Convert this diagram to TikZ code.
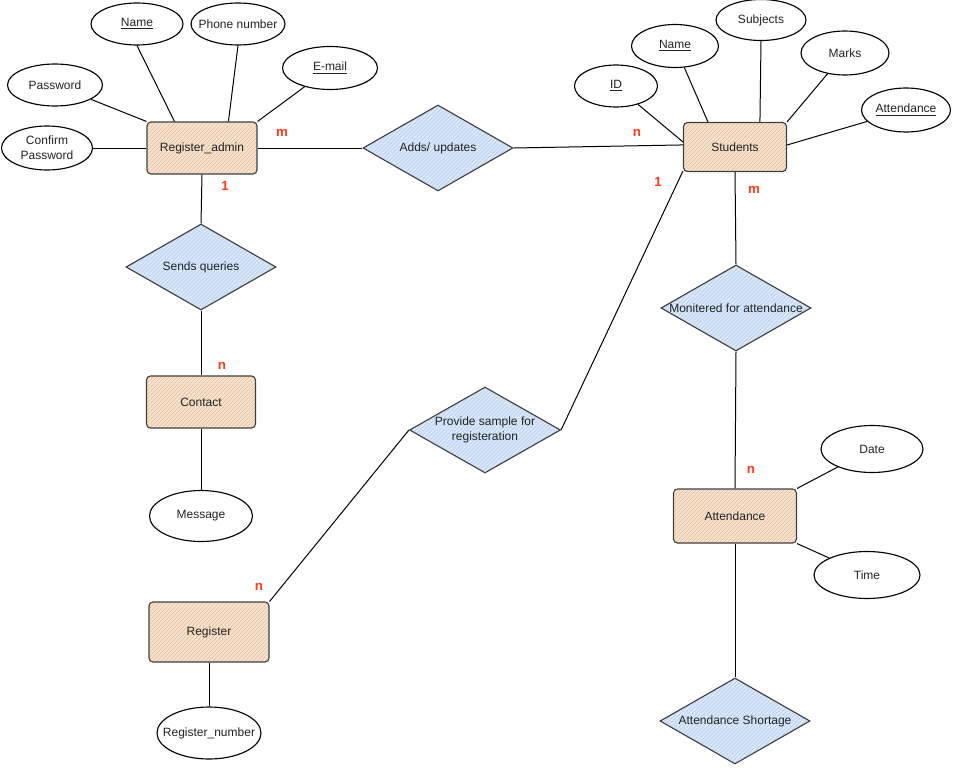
\documentclass[tikz,border=0pt]{standalone}
\usepackage{fontspec}
\setmainfont{Liberation Sans}
\usetikzlibrary{shapes.geometric,patterns,calc}
\definecolor{entbg}{HTML}{EEE6DE}
\definecolor{enthatch}{HTML}{FFB46E}
\definecolor{relbg}{HTML}{DAE8FC}
\definecolor{relhatch}{HTML}{B7CDEA}
\definecolor{cardred}{HTML}{FF3A1A}
\definecolor{txt}{HTML}{222222}
\begin{document}
\begin{tikzpicture}[x=0.75pt,y=-0.75pt,
  every node/.style={font=\fontsize{9}{11}\selectfont, text=txt},
  entity/.style={draw=black!75, line width=0.85pt, rounded corners=3pt, preaction={fill=entbg}, pattern=north east lines, pattern color=enthatch, inner sep=0},
  attr/.style={draw=black, line width=0.85pt, ellipse, fill=white, inner xsep=-10pt, inner ysep=-3pt, align=center},
  rel/.style={draw=black!75, line width=0.85pt, diamond, preaction={fill=relbg}, pattern=north east lines, pattern color=relhatch, inner sep=0, minimum width=112.5pt, minimum height=64.5pt},
  card/.style={text=cardred, font=\fontsize{10}{12}\selectfont\bfseries},
  conn/.style={line width=0.75pt}]
\useasboundingbox (0,0) rectangle (960,778);

% entities
\node[entity, minimum width=82.5pt, minimum height=39pt] (ra) at (202,148) {Register\_admin};
\node[entity, minimum width=77.25pt, minimum height=36.75pt] (st) at (735,147) {Students};
\node[entity, minimum width=81.75pt, minimum height=39pt] (con) at (201,402) {Contact};
\node[entity, minimum width=90pt, minimum height=45pt] (reg) at (209,632) {Register};
\node[entity, minimum width=92.25pt, minimum height=40.5pt] (att) at (735,516) {Attendance};

% relationships
\node[rel] (adds) at (438,148) {};
\node (addsT) at (adds) {Adds/ updates};
\node[rel] (sends) at (201,267) {};
\node (sendsT) at (sends) {Sends queries};
\node[rel, minimum width=113.25pt] (prov) at (485,430) {};
\node[align=center] (provT) at (prov) {Provide sample for\\registeration};
\node[rel] (mon) at (736,308) {};
\node (monT) at (mon) {Monitered for attendance};
\node[rel] (short) at (735,721) {};
\node (shortT) at (short) {Attendance Shortage};

% attributes
\node[attr, minimum width=69pt, minimum height=31.5pt] (nm1) at (137,24) {\underline{Name}};
\node[attr, minimum width=70.5pt, minimum height=31.5pt] (ph) at (238,24) {Phone number};
\node[attr, minimum width=71.25pt, minimum height=32.25pt] (em) at (330,68) {\underline{E-mail}};
\node[attr, minimum width=71.25pt, minimum height=31.5pt] (pw) at (55,85) {Password};
\node[attr, minimum width=68.25pt, minimum height=33pt] (cp) at (47,148) {Confirm\\Password};
\node[attr, minimum width=62.25pt, minimum height=31.5pt] (id) at (616,86) {\underline{ID}};
\node[attr, minimum width=65.25pt, minimum height=32.25pt] (nm2) at (675,46) {\underline{Name}};
\node[attr, minimum width=67.5pt, minimum height=30.75pt] (sub) at (761,20) {Subjects};
\node[attr, minimum width=66pt, minimum height=33pt] (mk) at (845,53) {Marks};
\node[attr, minimum width=66.75pt, minimum height=33pt] (atr) at (906,110) {\underline{Attendance}};
\node[attr, minimum width=77.25pt, minimum height=38.25pt] (msg) at (201,516) {Message};
\node[attr, minimum width=78pt, minimum height=39pt] (rn) at (209,733) {Register\_number};
\node[attr, minimum width=76.5pt, minimum height=35.25pt] (date) at (872,449) {Date};
\node[attr, minimum width=79.5pt, minimum height=35.25pt] (time) at (867,575) {Time};

% connectors
\begin{scope}[conn]
\draw (ra.east) -- (adds.west);
\draw (adds.east) -- ($(st.north west)+(0,23)$);
\draw (ra.south) -- (sends.north);
\draw (sends.south) -- (con.north);
\draw (con.south) -- (msg.north);
\draw ($(st.south west)+(0,-1)$) -- (prov.east);
\draw (prov.west) -- (reg.north east);
\draw (st.south) -- (mon.north);
\draw (mon.south) -- (att.north);
\draw (att.south) -- (short.north);
\draw (att.north east) -- (date);
\draw (att.south east) -- (time);
\draw (nm1.south) -- ($(ra.north west)+(28,0)$);
\draw (ph.south) -- ($(ra.north west)+(82,0)$);
\draw (em) -- (ra.north east);
\draw (pw) -- (ra.north west);
\draw (cp.east) -- (ra.west);
\draw (id) -- ($(st.north west)+(0,20)$);
\draw (nm2) -- ($(st.north west)+(25,0)$);
\draw (sub.south) -- ($(st.north west)+(77,0)$);
\draw (mk) -- (st.north east);
\draw (atr) -- ($(st.east)+(0,-2)$);
\draw (reg.south) -- (rn.north);
\end{scope}

% cardinalities
\node[card] (c1) at (282,133) {m};
\node[card] (c2) at (637,133) {n};
\node[card] (c3) at (225,186) {1};
\node[card] (c4) at (658,182) {1};
\node[card] (c5) at (754,190) {m};
\node[card] (c6) at (222,366) {n};
\node[card] (c7) at (751,470) {n};
\node[card] (c8) at (259,587) {n};
\end{tikzpicture}
\end{document}
